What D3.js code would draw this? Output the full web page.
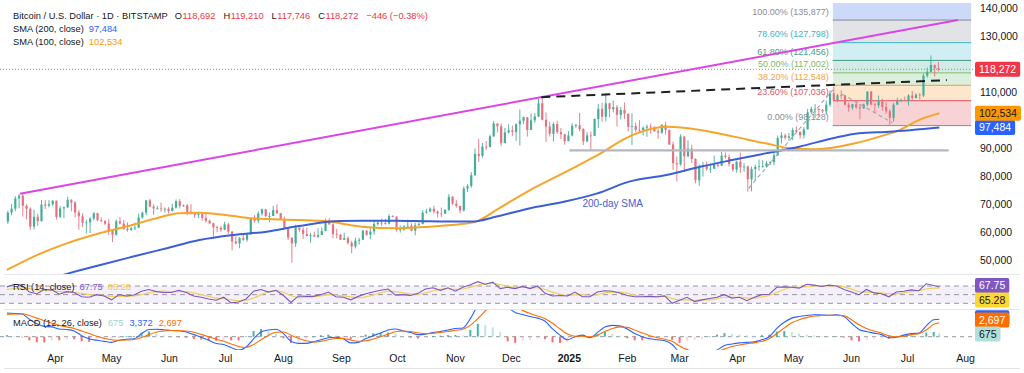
<!DOCTYPE html>
<html>
<head>
<meta charset="utf-8">
<script src="https://cdn.jsdelivr.net/npm/d3@7/dist/d3.min.js"></script>
<style>
  html, body { margin:0; padding:0; background:#ffffff; }
  svg { display:block; font-family: "Liberation Sans", Arial, sans-serif; }
</style>
</head>
<body>
<svg id="chart" width="1024" height="373"></svg>
<script>
// ================= DATA (prices in thousand USD) =================
const candleStart = "2024-03-06";      // each candle covers 2 days
const candleStepDays = 2;
const firstOpen = 63.8;
const closes = [
67.0,68.4,72.1,73.1,69.5,68.4,62.0,65.5,64.0,69.9,69.5,70.0,71.3,65.5,68.5,68.9,71.6,70.6,67.1,65.7,
63.4,63.5,64.9,66.8,64.3,64.0,63.1,60.6,59.1,63.9,63.1,61.2,60.8,61.4,61.6,65.3,67.0,71.4,69.2,68.5,
68.5,68.4,68.4,67.6,68.8,71.1,69.4,69.6,67.3,66.8,66.2,66.5,65.1,64.1,63.2,61.8,61.6,60.9,62.8,60.2,
56.7,56.0,57.9,57.3,59.2,64.8,64.1,66.7,68.2,65.8,65.8,67.9,66.8,64.6,61.4,58.1,56.0,61.7,60.9,59.4,
58.7,58.9,58.4,59.0,60.4,64.2,62.8,59.4,59.1,57.3,57.9,56.2,54.9,57.0,57.3,60.6,59.1,60.3,62.9,63.4,
63.3,63.1,65.8,65.6,60.8,61.0,62.1,62.3,60.6,62.5,62.9,67.0,67.4,68.4,67.4,66.7,66.6,68.0,72.7,70.2,
69.4,67.8,75.6,76.5,80.4,88.0,87.3,90.6,90.5,94.3,98.9,97.9,91.9,95.7,96.4,95.9,98.6,99.9,101.1,96.6,
100.0,101.4,106.1,100.2,97.8,95.2,98.7,95.8,95.0,92.6,94.6,98.1,98.3,96.9,92.5,94.6,94.5,100.5,104.1,101.3,
106.1,104.0,104.7,102.0,103.7,102.4,97.7,98.0,96.6,96.5,97.4,97.8,97.5,96.1,95.6,98.3,96.6,91.4,84.7,84.3,
94.2,87.2,89.9,86.2,78.6,83.7,84.0,82.6,82.7,84.2,83.8,87.4,86.9,84.4,82.4,85.2,83.2,83.5,79.0,82.6,
83.4,83.6,83.6,84.7,85.1,87.5,93.7,94.6,93.8,94.3,96.5,95.9,94.7,96.8,102.9,104.1,104.1,103.7,103.2,105.6,
109.7,107.3,109.0,108.9,105.6,104.6,105.8,104.7,104.3,105.7,110.3,105.7,105.4,106.8,104.8,103.3,100.9,105.6,106.9,107.3,
107.1,108.9,108.0,109.2,108.9,116.0,117.4,119.8,118.7,118.272
];
const highs = [
67.7,70.1,72.9,73.6,73.8,70.0,68.9,68.1,66.6,71.5,71.5,71.4,71.4,71.3,69.3,69.2,72.7,71.8,71.2,67.9,
66.8,64.5,65.4,67.2,67.0,65.3,64.3,64.7,60.8,64.5,65.5,64.4,63.5,61.9,63.4,66.7,67.4,71.5,71.9,70.0,
69.5,70.6,68.9,69.0,70.2,71.7,71.9,69.9,70.1,70.0,67.3,67.0,66.5,66.5,64.5,63.4,62.4,62.2,63.8,63.3,
60.5,58.5,58.3,59.4,59.8,65.0,66.1,67.4,68.4,68.3,67.1,69.4,70.0,66.9,65.6,61.5,57.1,62.7,61.7,61.8,
61.6,59.8,60.2,61.4,61.8,64.9,65.0,63.2,61.2,59.4,59.8,58.5,56.9,58.1,58.0,60.7,60.6,61.4,63.9,64.1,
64.8,64.8,66.5,66.1,65.6,62.4,62.5,64.5,63.2,63.4,63.5,67.9,68.4,68.9,69.5,67.8,68.8,68.3,73.6,72.9,
71.6,69.5,76.4,77.2,81.5,89.9,93.4,91.9,92.6,94.9,99.8,98.8,98.9,97.3,98.6,98.2,99.0,103.9,101.4,101.2,
102.5,102.6,107.8,108.3,102.8,99.5,99.4,99.9,97.3,95.2,96.2,98.9,98.8,102.7,97.2,95.8,95.9,100.7,105.9,106.3,
109.6,106.3,107.1,105.5,104.8,106.4,102.1,102.5,99.2,100.1,97.8,98.5,98.8,97.9,97.0,98.7,99.5,96.6,92.4,87.1,
95.0,94.4,92.8,91.3,86.5,84.3,85.2,85.3,84.7,87.4,84.9,88.8,88.5,87.8,84.5,85.6,88.5,84.7,83.9,83.5,
84.2,86.0,85.8,85.5,85.5,88.5,94.6,95.8,95.3,95.5,97.4,97.9,96.0,97.6,104.1,104.9,105.8,104.3,104.1,107.1,
110.7,112.0,109.5,110.7,109.0,106.4,105.9,106.8,105.9,106.0,110.4,110.4,106.2,108.9,107.7,106.5,104.0,106.2,108.1,107.8,
108.5,109.4,110.5,109.7,109.7,116.8,118.9,123.2,120.0,120.9
];
const lows = [
62.9,66.1,67.5,68.6,65.6,64.6,60.8,61.0,62.3,63.8,68.3,68.9,69.3,64.5,65.1,65.0,68.6,67.5,65.3,60.9,
61.8,59.6,59.7,64.2,63.9,63.6,62.5,59.1,56.5,58.8,62.8,60.9,60.2,60.5,60.8,61.6,64.9,66.1,68.9,66.3,
68.2,67.3,67.1,66.7,67.4,68.5,68.5,69.1,66.1,66.3,65.1,65.0,64.1,63.4,63.0,58.4,60.0,60.1,60.7,59.4,
53.5,55.7,54.3,56.9,56.6,59.2,63.4,63.3,65.9,65.4,63.5,65.8,66.5,64.5,61.2,57.2,49.1,54.7,60.0,57.6,
58.5,56.2,58.3,57.9,59.6,60.4,62.7,57.9,57.8,57.2,57.2,55.6,52.5,54.2,55.6,57.4,58.7,57.5,59.2,62.4,
62.3,62.7,62.8,65.3,60.2,59.9,60.5,62.0,60.3,58.9,62.4,62.9,66.6,67.2,66.6,65.3,65.5,66.5,67.6,69.7,
68.8,66.8,67.4,74.4,75.9,80.2,85.1,86.7,89.4,90.4,94.1,95.7,90.8,91.8,95.3,94.4,92.7,91.0,98.7,94.2,
96.6,99.2,101.2,100.0,92.2,94.2,92.5,95.2,93.3,91.3,92.6,94.3,97.3,96.1,91.2,92.2,89.2,94.4,97.3,99.5,
99.6,101.2,102.8,97.8,100.3,100.5,96.0,91.2,95.7,95.7,94.7,94.1,95.2,96.0,93.4,95.2,94.9,91.2,82.3,78.2,
83.8,81.5,86.8,84.7,77.5,76.6,79.9,82.0,81.2,82.7,83.2,83.7,86.3,83.5,81.6,81.3,81.2,81.6,74.5,74.6,
78.6,82.0,83.1,83.1,84.0,83.9,87.4,91.7,93.1,92.8,92.9,95.6,93.5,93.5,96.9,102.3,100.8,101.4,102.6,102.0,
104.9,106.8,106.6,107.5,105.3,103.1,103.8,104.2,100.4,104.2,105.1,105.4,102.7,104.5,103.4,102.4,98.2,99.6,106.1,106.5,
106.8,105.3,107.3,107.8,107.5,108.4,115.3,117.3,115.7,117.5
];

const sma100Dates = ["2024-03-06","2024-03-20","2024-04-07","2024-04-25","2024-05-12","2024-05-25","2024-06-06","2024-06-17","2024-07-05","2024-07-15","2024-08-09","2024-08-23","2024-09-12","2024-09-30","2024-10-18","2024-11-05","2024-11-12","2024-11-23","2024-12-11","2024-12-29","2025-01-16","2025-02-04","2025-02-22","2025-03-12","2025-03-30","2025-04-16","2025-04-30","2025-05-13","2025-06-03","2025-06-16","2025-06-27","2025-07-07","2025-07-18"];
const sma100Values = [46.5,51.2,56.0,59.7,62.6,65.0,66.8,67.0,65.8,65.0,64.4,64.0,62.0,61.4,62.0,63.0,63.8,68.0,75.1,81.2,87.6,94.8,97.7,96.6,94.2,91.8,90.0,89.7,91.8,94.2,96.6,100.1,102.534];
const sma200Dates = ["2024-03-06","2024-03-20","2024-04-05","2024-04-25","2024-05-12","2024-05-30","2024-06-17","2024-07-05","2024-07-23","2024-08-09","2024-08-31","2024-09-12","2024-09-30","2024-10-18","2024-11-10","2024-11-23","2024-12-11","2024-12-29","2025-01-16","2025-02-02","2025-02-22","2025-03-12","2025-03-29","2025-04-16","2025-05-04","2025-05-22","2025-06-05","2025-06-21","2025-07-18"];
const sma200Values = [38.5,41.0,44.7,48.3,51.2,54.2,57.2,59.0,60.2,62.2,64.0,64.1,64.1,63.9,63.8,65.6,68.6,70.9,73.9,78.1,80.5,83.4,85.8,88.2,90.6,93.6,95.4,95.95,97.484];

// indicators sampled every 4 days from indStart, plus the last bar
const indStart = "2024-03-06";
const indStepDays = 4;
const indLastDate = "2025-07-18";
const rsiValues = [
68,74,72,56,52,62,61,51,57,55,45,44,50,47,38,50,47,49,58,62,
57,55,55,60,55,47,44,40,37,44,31,33,40,58,62,56,60,48,32,47,
46,46,50,56,45,44,38,46,52,56,60,63,49,50,48,53,63,66,60,66,
58,67,73,80,74,79,64,67,64,69,64,70,53,47,48,47,56,45,45,56,
59,58,54,48,45,45,46,45,47,30,37,44,34,38,41,44,50,42,44,36,
44,50,51,67,68,67,65,74,72,69,72,70,62,56,50,62,54,52,45,56,
58,61,59,75,71,67.75];
const rsiMaValues = [
62,64,66,64,61,60,59,57,56,55,53,50,49,48,46,46,46,47,50,54,
57,58,57,57,57,54,50,46,42,41,38,36,37,42,50,57,59,55,48,43,
44,45,47,50,49,47,45,43,45,49,54,58,57,54,51,51,54,59,62,64,
62,63,67,72,75,76,73,70,67,67,66,66,62,56,51,48,50,50,48,50,
54,56,56,53,49,47,46,45,46,41,38,38,37,38,38,41,44,44,44,42,
42,45,48,55,62,67,67,69,70,70,71,70,68,63,57,56,55,54,52,52,
54,57,59,63,65,65.28];
const macdValues = [
4600,4500,4400,3400,2500,2000,1900,1500,1400,1100,200,-400,-700,-900,-1100,-700,-500,-400,600,1400,
1450,1350,1200,1150,900,400,-100,-700,-1300,-1500,-2100,-2600,-2000,-400,900,1300,1450,600,-900,-1300,
-1300,-1000,-600,-200,-100,-400,-1200,-1100,-400,200,700,1300,1500,1100,800,400,500,800,1000,1300,
1600,1700,3500,6000,7200,8000,7800,5800,4700,4300,3900,3600,3000,1500,300,-600,0,300,-200,800,
1900,2200,2100,1500,600,0,-400,-600,-800,-1500,-3000,-3300,-3600,-3900,-3300,-2600,-1700,-1400,-1200,-1100,
-1000,-600,0,1600,2800,3600,3900,4100,4250,4200,4150,4250,3900,2600,1400,1000,700,400,-200,-100,
300,600,700,2100,3300,3372];
const signalValues = [
4300,4400,4450,4100,3600,3100,2600,2200,1900,1600,1100,600,100,-300,-600,-700,-650,-550,-150,400,
850,1100,1200,1200,1100,850,450,0,-500,-900,-1400,-1900,-2100,-1500,-600,300,850,900,300,-300,
-800,-1000,-900,-600,-350,-350,-650,-900,-800,-450,0,500,950,1100,1000,750,600,650,800,1000,
1250,1450,2200,3500,5000,6200,6900,6700,5900,5100,4500,4000,3500,2600,1500,500,100,100,0,300,
1000,1600,1900,1800,1300,700,200,-200,-500,-900,-1800,-2500,-3000,-3400,-3400,-3000,-2400,-1900,-1600,-1350,
-1200,-900,-400,600,1700,2700,3300,3700,4000,4100,4150,4150,4050,3300,2300,1600,1100,700,200,0,
100,400,600,1300,2400,2697];
const histValues = [
300,100,-50,-700,-1100,-1100,-700,-700,-500,-500,-900,-1000,-800,-600,-500,0,150,150,750,1000,
600,250,0,-50,-200,-450,-550,-700,-800,-600,-700,-700,100,1100,1500,1000,600,-300,-1200,-1000,
-500,0,300,400,250,-50,-550,-200,400,650,700,800,550,0,-200,-350,-100,150,200,300,
350,250,1300,2500,2200,1800,900,-900,-1200,-800,-600,-400,-500,-1100,-1200,-1100,-100,200,-200,500,
900,600,200,-300,-700,-700,-600,-400,-300,-600,-1200,-800,-600,-500,100,400,700,500,400,250,
200,300,400,1000,1100,900,600,400,250,100,0,100,-150,-700,-900,-600,-400,-300,-400,-100,
200,200,100,800,900,675];

const priceTicks = [50,60,70,80,90,100,110,120,130,140];
const monthDates = ["2024-04-01","2024-05-01","2024-06-01","2024-07-01","2024-08-01","2024-09-01","2024-10-01","2024-11-01","2024-12-01","2025-01-01","2025-02-01","2025-03-01","2025-04-01","2025-05-01","2025-06-01","2025-07-01","2025-08-01"];
const monthLabels = ["Apr","May","Jun","Jul","Aug","Sep","Oct","Nov","Dec","2025","Feb","Mar","Apr","May","Jun","Jul","Aug"];

const fibDates = ["2025-05-22","2025-08-04"];
const fibRatios = ["100.00%","78.60%","61.80%","50.00%","38.20%","23.60%","0.00%"];
const fibPrices = [135877,127798,121456,117002,112548,107036,98128];

const resistDates = ["2024-03-13","2025-07-28"]; const resistValues = [73.8,135.9];
const dashDates = ["2024-12-17","2025-07-22"];   const dashValues = [108.3,114.4];
const floorDates = ["2025-01-01","2025-07-23"];  const floorValues = [89.3,89.3];
const riseDates = ["2025-04-07","2025-05-22"];   const riseValues = [75.8,110.9];
const fallDates = ["2025-05-27","2025-06-23"];   const fallValues = [109.4,99.1];
const smaNote = {date:"2025-01-08", value:70.1, text:"200-day SMA"};

const lastPrice = 118.272, sma100Last = 102.534, sma200Last = 97.484;
const ohlcText = ["118,692","119,210","117,746","118,272"];
const changeText = "\u2212446 (\u22120.38%)";

// ================= SCALES =================
const parse = d3.utcParse("%Y-%m-%d");
const PR = 975;
const x = d3.scaleUtc().domain([parse("2024-04-01"), parse("2025-08-01")]).range([55.5, 965.5]);
const y = d3.scaleLinear().domain([50,130]).range([260.2,36.5]);
const yR = d3.scaleLinear().domain([30,70]).range([303.3,286]);
const yM = d3.scaleLinear().domain([0,3372]).range([336.7,319.3]);

const svg = d3.select("#chart");
svg.append("rect").attr("width",1024).attr("height",373).attr("fill","#fff");
const defs = svg.append("defs");
function clip(id,y0,h){ defs.append("clipPath").attr("id",id).append("rect").attr("x",0).attr("y",y0).attr("width",PR).attr("height",h); }
clip("cMain",3,271); clip("cRsi",275,34); clip("cMacd",310,40);

// separators
[274.5,309.5,368.5].forEach(yy=>svg.append("line").attr("x1",4).attr("x2",1020).attr("y1",yy).attr("y2",yy).attr("stroke","#e3e5ea").attr("stroke-width",1));

const gm = svg.append("g").attr("clip-path","url(#cMain)");

// ---------- Fibonacci ----------
const fx0 = x(parse(fibDates[0])), fx1 = x(parse(fibDates[1]));
const fy = fibPrices.map(p=>y(p/1000));
const zoneCol = ["#cdd9f8","#e2e3e7","#d1eff3","#d3ebe5","#dbefdc","#fde6cc","#f8d3d6"];
const lineCol = ["#868993","#3bb7ca","#3d9a87","#7dbd68","#f0a03a","#e0505e","#868993"];
const labCol  = ["#8a8d96","#3fb3c6","#4a9c8c","#85b96a","#eda347","#dc5664","#8a8d96"];
gm.append("rect").attr("x",fx0).attr("width",fx1-fx0).attr("y",3).attr("height",fy[0]-3).attr("fill",zoneCol[0]);
for(let i=0;i<6;i++){
  gm.append("rect").attr("x",fx0).attr("width",fx1-fx0).attr("y",fy[i]).attr("height",fy[i+1]-fy[i]).attr("fill",zoneCol[i+1]);
}
fy.forEach((yy,i)=>{
  gm.append("line").attr("x1",fx0).attr("x2",fx1).attr("y1",yy).attr("y2",yy).attr("stroke",lineCol[i]).attr("stroke-width",1);
  gm.append("text").attr("x",fx0-4).attr("y",yy-5.5).attr("text-anchor","end").attr("font-size",9).attr("fill",labCol[i])
    .text(`${fibRatios[i]} (${d3.format(",")(fibPrices[i])})`);
});

// ---------- current price dotted ----------
gm.append("line").attr("x1",0).attr("x2",PR).attr("y1",y(lastPrice)).attr("y2",y(lastPrice))
  .attr("stroke","#8a8d96").attr("stroke-dasharray","1,2").attr("stroke-width",1);

// ---------- candles ----------
const candles = closes.map((c,i)=>{
  const o = i===0 ? firstOpen : closes[i-1];
  const d = d3.utcHour.offset(parse(candleStart), 24*candleStepDays*i + 12);
  return {d,o,c,h:Math.max(highs[i],o,c),l:Math.min(lows[i],o,c)};
});
const upC = "#45ae98", dnC = "#e4717f";
const cg = gm.append("g");
cg.selectAll("line.w").data(candles).join("line").attr("class","w")
  .attr("x1",d=>x(d.d)).attr("x2",d=>x(d.d)).attr("y1",d=>y(d.h)).attr("y2",d=>y(d.l))
  .attr("stroke",d=>d.c>=d.o?upC:dnC).attr("stroke-width",0.9);
cg.selectAll("rect.b").data(candles).join("rect").attr("class","b")
  .attr("x",d=>x(d.d)-1.1).attr("width",2.2)
  .attr("y",d=>y(Math.max(d.o,d.c))).attr("height",d=>Math.max(0.8,Math.abs(y(d.o)-y(d.c))))
  .attr("fill",d=>d.c>=d.o?upC:dnC);

// ---------- SMAs ----------
const lineP = d3.line().x(d=>x(d.d)).y(d=>y(d.v)).curve(d3.curveMonotoneX);
const s100 = sma100Dates.map((dd,i)=>({d:parse(dd),v:sma100Values[i]}));
const s200 = sma200Dates.map((dd,i)=>({d:parse(dd),v:sma200Values[i]}));
gm.append("path").attr("d",lineP(s100)).attr("fill","none").attr("stroke","#f5a52a").attr("stroke-width",2);
gm.append("path").attr("d",lineP(s200)).attr("fill","none").attr("stroke","#3a5fd9").attr("stroke-width",2);

// ---------- drawings ----------
function seg(dates, vals, stroke, w, dash){
  const pts = dates.map((dd,i)=>({d:parse(dd),v:vals[i]}));
  const p = gm.append("path").attr("d",d3.line().x(d=>x(d.d)).y(d=>y(d.v))(pts))
    .attr("fill","none").attr("stroke",stroke).attr("stroke-width",w);
  if(dash) p.attr("stroke-dasharray",dash);
}
seg(floorDates, floorValues, "#b5b7bf", 2.2);
seg(riseDates, riseValues, "#a0a3ab", 1.1, "4,3");
seg(fallDates, fallValues, "#a0a3ab", 1.1, "4,3");
seg(resistDates, resistValues, "#dd44e6", 2);
seg(dashDates, dashValues, "#1e1f24", 2, "9,6");

gm.append("text").attr("x",x(parse(smaNote.date))).attr("y",y(smaNote.value)).attr("dominant-baseline","central")
  .attr("font-size",10).attr("fill","#3f62d6").text(smaNote.text);

// ---------- RSI pane ----------
const indDates = rsiValues.map((_,k)=> k < rsiValues.length-1 ? d3.utcDay.offset(parse(indStart), indStepDays*k) : parse(indLastDate));
const gr = svg.append("g").attr("clip-path","url(#cRsi)");
gr.append("rect").attr("x",0).attr("width",PR).attr("y",yR(70)).attr("height",yR(30)-yR(70)).attr("fill","rgba(126,87,194,0.09)");
[70,50,30].forEach(v=>gr.append("line").attr("x1",0).attr("x2",PR).attr("y1",yR(v)).attr("y2",yR(v))
  .attr("stroke","#9598a1").attr("stroke-width",1).attr("stroke-dasharray","5,4"));
gr.append("path").attr("d",d3.line().x((d,i)=>x(indDates[i])).y(d=>yR(d)).curve(d3.curveMonotoneX)(rsiMaValues))
  .attr("fill","none").attr("stroke","#f2cf5b").attr("stroke-width",1.2);
gr.append("path").attr("d",d3.line().x((d,i)=>x(indDates[i])).y(d=>yR(d))(rsiValues))
  .attr("fill","none").attr("stroke","#7e57c2").attr("stroke-width",1.1);

// ---------- MACD pane ----------
const gd = svg.append("g").attr("clip-path","url(#cMacd)");
gd.append("line").attr("x1",0).attr("x2",PR).attr("y1",yM(0)).attr("y2",yM(0)).attr("stroke","#9598a1").attr("stroke-dasharray","4,4");
gd.selectAll("rect.h").data(histValues).join("rect").attr("class","h")
  .attr("x",(d,i)=>x(indDates[i])-1).attr("width",2)
  .attr("y",d=>Math.min(yM(0),yM(d))).attr("height",d=>Math.max(0.6,Math.abs(yM(d)-yM(0))))
  .attr("opacity",0.85)
  .attr("fill",(d,i)=>{ const p = i>0?histValues[i-1]:d; return d>=0 ? (d>=p?"#26a69a":"#b2dfdb") : (d<=p?"#ff5252":"#ffcdd2"); });
gd.append("path").attr("d",d3.line().x((d,i)=>x(indDates[i])).y(d=>yM(d)).curve(d3.curveMonotoneX)(macdValues))
  .attr("fill","none").attr("stroke","#2962ff").attr("stroke-width",1.1);
gd.append("path").attr("d",d3.line().x((d,i)=>x(indDates[i])).y(d=>yM(d)).curve(d3.curveMonotoneX)(signalValues))
  .attr("fill","none").attr("stroke","#ff6d00").attr("stroke-width",1.1);

// ---------- tags (positions computed first) ----------
const fmt = d3.format(",");
const mainTags = [
  {y:y(sma200Last), t:fmt(Math.round(sma200Last*1000)), bg:"#2962ff", fg:"#fff"},
  {y:y(sma100Last), t:fmt(Math.round(sma100Last*1000)), bg:"#ff9800", fg:"#131722"},
  {y:y(lastPrice),  t:fmt(Math.round(lastPrice*1000)),  bg:"#f23645", fg:"#fff"}
];

// ---------- price axis (labels hidden behind tags are dropped) ----------
const visibleTicks = priceTicks.filter(v => mainTags.every(tg => Math.abs(y(v)-tg.y) > 11));
const ax = svg.append("g").attr("transform",`translate(${PR},0)`)
  .call(d3.axisRight(y).tickValues(visibleTicks).tickSize(0).tickPadding(5).tickFormat(d=>fmt(d*1000)));
ax.select(".domain").remove();
ax.selectAll("text").attr("font-size",10.5).attr("fill","#131722").attr("font-family","Liberation Sans, Arial, sans-serif");

function tag(yc, txt, bg, fg, showText){
  const g = svg.append("g");
  const r = g.append("rect");
  const t = g.append("text").attr("x",PR+4).attr("y",yc).attr("dominant-baseline","central")
    .attr("font-size",10.5).attr("fill",fg).text(txt);
  const w = t.node().getComputedTextLength();
  r.attr("x",PR).attr("y",yc-7.5).attr("width",w+8).attr("height",15).attr("rx",2).attr("fill",bg);
  if(showText===false) t.remove();
}
mainTags.forEach(tg=>tag(tg.y, tg.t, tg.bg, tg.fg));

const rsiLast = rsiValues[rsiValues.length-1], rsiMaLast = rsiMaValues[rsiMaValues.length-1];
const rT = yR(rsiLast) - 1.5;
tag(rT, rsiLast.toFixed(2), "#7e57c2", "#fff");
tag(rT + 14.5, rsiMaLast.toFixed(2), "#fdd835", "#131722");
const mLast = macdValues[macdValues.length-1], sLast = signalValues[signalValues.length-1], hLast = histValues[histValues.length-1];
const hY = yM(hLast) + 0.8;
tag(yM(mLast) - 1.6, fmt(mLast), "#2962ff", "#fff", false);   // covered by the signal tag
tag(Math.min(yM(sLast), hY - 14), fmt(sLast), "#ff6d00", "#fff");
tag(hY, fmt(hLast), "#b2dfdb", "#131722");

// ---------- time axis ----------
svg.append("g").selectAll("text").data(monthDates).join("text")
  .attr("x",d=>x(parse(d))).attr("y",358).attr("dominant-baseline","central").attr("text-anchor","middle")
  .attr("font-size",10.5).attr("fill","#131722")
  .attr("font-weight",(d,i)=>/^\d{4}$/.test(monthLabels[i])?"bold":"normal")
  .text((d,i)=>monthLabels[i]);

// ---------- legends ----------
function txt(xx, yy, s, col, size){ return svg.append("text").attr("x",xx).attr("y",yy).attr("dominant-baseline","central")
  .attr("font-size",size||9.3).attr("fill",col).text(s); }
function wid(t){ return t.node().getComputedTextLength(); }
const dark = "#131722", red = "#f23645";
const title = txt(13,15.7,"Bitcoin / U.S. Dollar \u00b7 1D \u00b7 BITSTAMP",dark);
let lx = 13 + wid(title) + 7;
["O","H","L","C"].forEach((k,i)=>{
  const t = txt(lx,15.7,k,dark); lx += wid(t) + 0.5;
  const v = txt(lx,15.7,ohlcText[i],red); lx += wid(v) + 8;
});
txt(lx,15.7,changeText,red);
const l2 = txt(13,29.3,"SMA (200, close)",dark);
txt(13+wid(l2)+5,29.3,fmt(Math.round(sma200Last*1000)),"#2962ff");
const l3 = txt(13,41.7,"SMA (100, close)",dark);
txt(13+wid(l3)+5,41.7,fmt(Math.round(sma100Last*1000)),"#ff9800");

const r1 = txt(13,286.7,"RSI (14, close)",dark);
let rx = 13 + wid(r1) + 5;
const r2 = txt(rx,286.7,rsiLast.toFixed(2),"#7e57c2"); rx += wid(r2)+5;
txt(rx,286.7,rsiMaLast.toFixed(2),"#f2c94c");

const m1 = txt(13,323.3,"MACD (12, 26, close)",dark);
let mx = 13 + wid(m1) + 6;
const m2 = txt(mx,323.3,fmt(hLast),"#9fd3cc"); mx += wid(m2)+6;
const m3 = txt(mx,323.3,fmt(mLast),"#2962ff"); mx += wid(m3)+6;
txt(mx,323.3,fmt(sLast),"#ff6d00");
</script>
</body>
</html>
